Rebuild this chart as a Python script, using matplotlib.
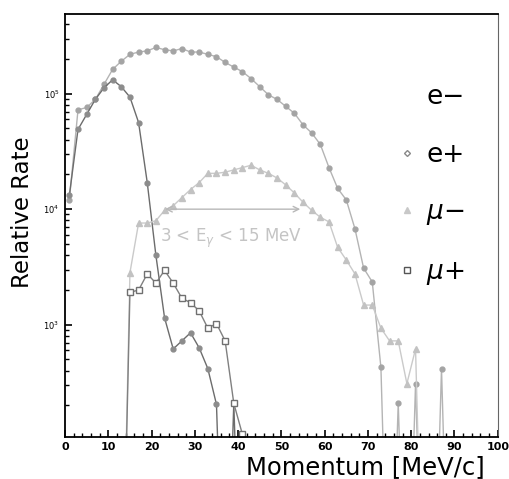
import numpy as np
import matplotlib
matplotlib.use('Agg')
import matplotlib.pyplot as plt
from matplotlib.lines import Line2D
from matplotlib.ticker import LogLocator, LogFormatterMathtext, MultipleLocator

# momentum bins (MeV/c), log10 of relative rate; None = empty bin (drawn at the floor)
p_em = [1, 3, 5, 7, 9, 11, 13, 15, 17, 19, 21, 23, 25, 27, 29, 31, 33, 35, 37,
        39, 41, 43, 45, 47, 49, 51, 53, 55, 57, 59, 61, 63, 65, 67, 69, 71, 73,
        75, 77, 79, 81, 83, 85, 87, 89]
lg_em = [4.08, 4.86, 4.88, 4.95, 5.08, 5.21, 5.28, 5.34, 5.36, 5.37, 5.40, 5.38,
         5.37, 5.39, 5.36, 5.36, 5.34, 5.32, 5.27, 5.23, 5.19, 5.13, 5.06, 4.99,
         4.95, 4.89, 4.83, 4.73, 4.66, 4.56, 4.36, 4.18, 4.08, 3.83, 3.49, 3.37,
         2.63, None, 2.32, None, 2.49, None, None, 2.62, None]

p_ep = [1, 3, 5, 7, 9, 11, 13, 15, 17, 19, 21, 23, 25, 27, 29, 31, 33, 35, 37,
        39, 41]
lg_ep = [4.12, 4.69, 4.82, 4.95, 5.05, 5.12, 5.06, 4.97, 4.75, 4.23, 3.60, 3.06,
         2.79, 2.86, 2.93, 2.80, 2.62, 2.31, None, 2.32, None]

p_mm = [13, 15, 17, 19, 21, 23, 25, 27, 29, 31, 33, 35, 37, 39, 41, 43, 45, 47,
        49, 51, 53, 55, 57, 59, 61, 63, 65, 67, 69, 71, 73, 75, 77, 79, 81, 83]
lg_mm = [None, 3.45, 3.88, 3.88, 3.90, 3.99, 4.03, 4.10, 4.17, 4.23, 4.31, 4.31,
         4.32, 4.34, 4.36, 4.38, 4.34, 4.31, 4.27, 4.21, 4.14, 4.06, 3.99, 3.93,
         3.89, 3.67, 3.56, 3.44, 3.17, 3.17, 2.97, 2.86, 2.86, 2.49, 2.79, None]

p_mp = [13, 15, 17, 19, 21, 23, 25, 27, 29, 31, 33, 35, 37, 39, 41, 43]
lg_mp = [None, 3.28, 3.30, 3.44, 3.36, 3.47, 3.36, 3.23, 3.19, 3.12, 2.97, 3.01,
         2.86, 2.32, 2.05, None]

labels = ['e\u2212', 'e+', '$\\mu$\u2212', '$\\mu$+']


def rate(lg):
    return np.array([10 ** v if v is not None else 1.0 for v in lg])


fig = plt.figure(figsize=(5.1, 4.79), dpi=100)
ax = fig.add_axes([0.1275, 0.088, 0.8485, 0.883])

ax.plot(p_em, rate(lg_em), '-o', color='#b4b4b4', mfc='#a4a4a4', mec='#a4a4a4',
        ms=3.5, lw=1.0)
ax.plot(p_ep, rate(lg_ep), '-o', color='#6c6c6c', mfc='#8c8c8c', mec='#8c8c8c',
        ms=3.5, lw=1.0)
ax.plot(p_mm, rate(lg_mm), '-^', color='#cacaca', mfc='#c2c2c2', mec='#c2c2c2',
        ms=4, lw=1.0)
ax.plot(p_mp, rate(lg_mp), '-s', color='#808080', mfc='white', mec='#707070',
        ms=5, lw=1.0)

# energy window annotation
ax.annotate('', xy=(22.5, 1e4), xytext=(55, 1e4),
            arrowprops=dict(arrowstyle='<->', color='#b8b8b8', lw=1.0))
ax.text(22, 5.6e3, r'3 < E$_\gamma$ < 15 MeV', color='#c4c4c4', fontsize=12,
        va='center', ha='left')

ax.set_yscale('log')
ax.set_xlim(0, 100)
ax.set_ylim(107, 4.9e5)
ax.xaxis.set_major_locator(MultipleLocator(10))
ax.xaxis.set_minor_locator(MultipleLocator(2))
ax.yaxis.set_major_locator(LogLocator(base=10))
ax.yaxis.set_major_formatter(LogFormatterMathtext())
ax.yaxis.set_minor_locator(LogLocator(base=10, subs=np.arange(2, 10)))
ax.yaxis.set_minor_formatter(plt.NullFormatter())
ax.tick_params(which='both', direction='in', top=False, right=False)
ax.tick_params(which='major', length=5, width=1.2)
ax.tick_params(which='minor', length=3, width=1.0)
ax.tick_params(axis='x', labelsize=8, pad=4)
ax.tick_params(axis='y', labelsize=6, pad=4)
for lab in ax.get_xticklabels():
    lab.set_fontweight('bold')

for side in ['left', 'bottom', 'top']:
    ax.spines[side].set_linewidth(1.3)
ax.spines['right'].set_color('#666666')

ax.set_xlabel('Momentum [MeV/c]', fontsize=17.5)
ax.xaxis.set_label_coords(0.695, -0.043, transform=ax.transAxes)
ax.xaxis.label.set_va('top')
ax.set_ylabel('Relative Rate', fontsize=16.5)
ax.yaxis.set_label_coords(-0.099, 0.53, transform=ax.transAxes)
ax.yaxis.label.set_va('center')

handles = [
    Line2D([], [], ls='none', marker=None),
    Line2D([], [], ls='none', marker='D', ms=3, mfc='white', mec='#888888'),
    Line2D([], [], ls='none', marker='^', ms=4, mfc='#c8c8c8', mec='#c8c8c8'),
    Line2D([], [], ls='none', marker='s', ms=4, mfc='white', mec='#555555'),
]
ax.legend(handles, labels, loc='upper left', bbox_to_anchor=(0.71, 0.89),
          frameon=False, fontsize=19, labelspacing=1.2, handlelength=0.8,
          handletextpad=0.35)

fig.savefig('out.png', dpi=100)
